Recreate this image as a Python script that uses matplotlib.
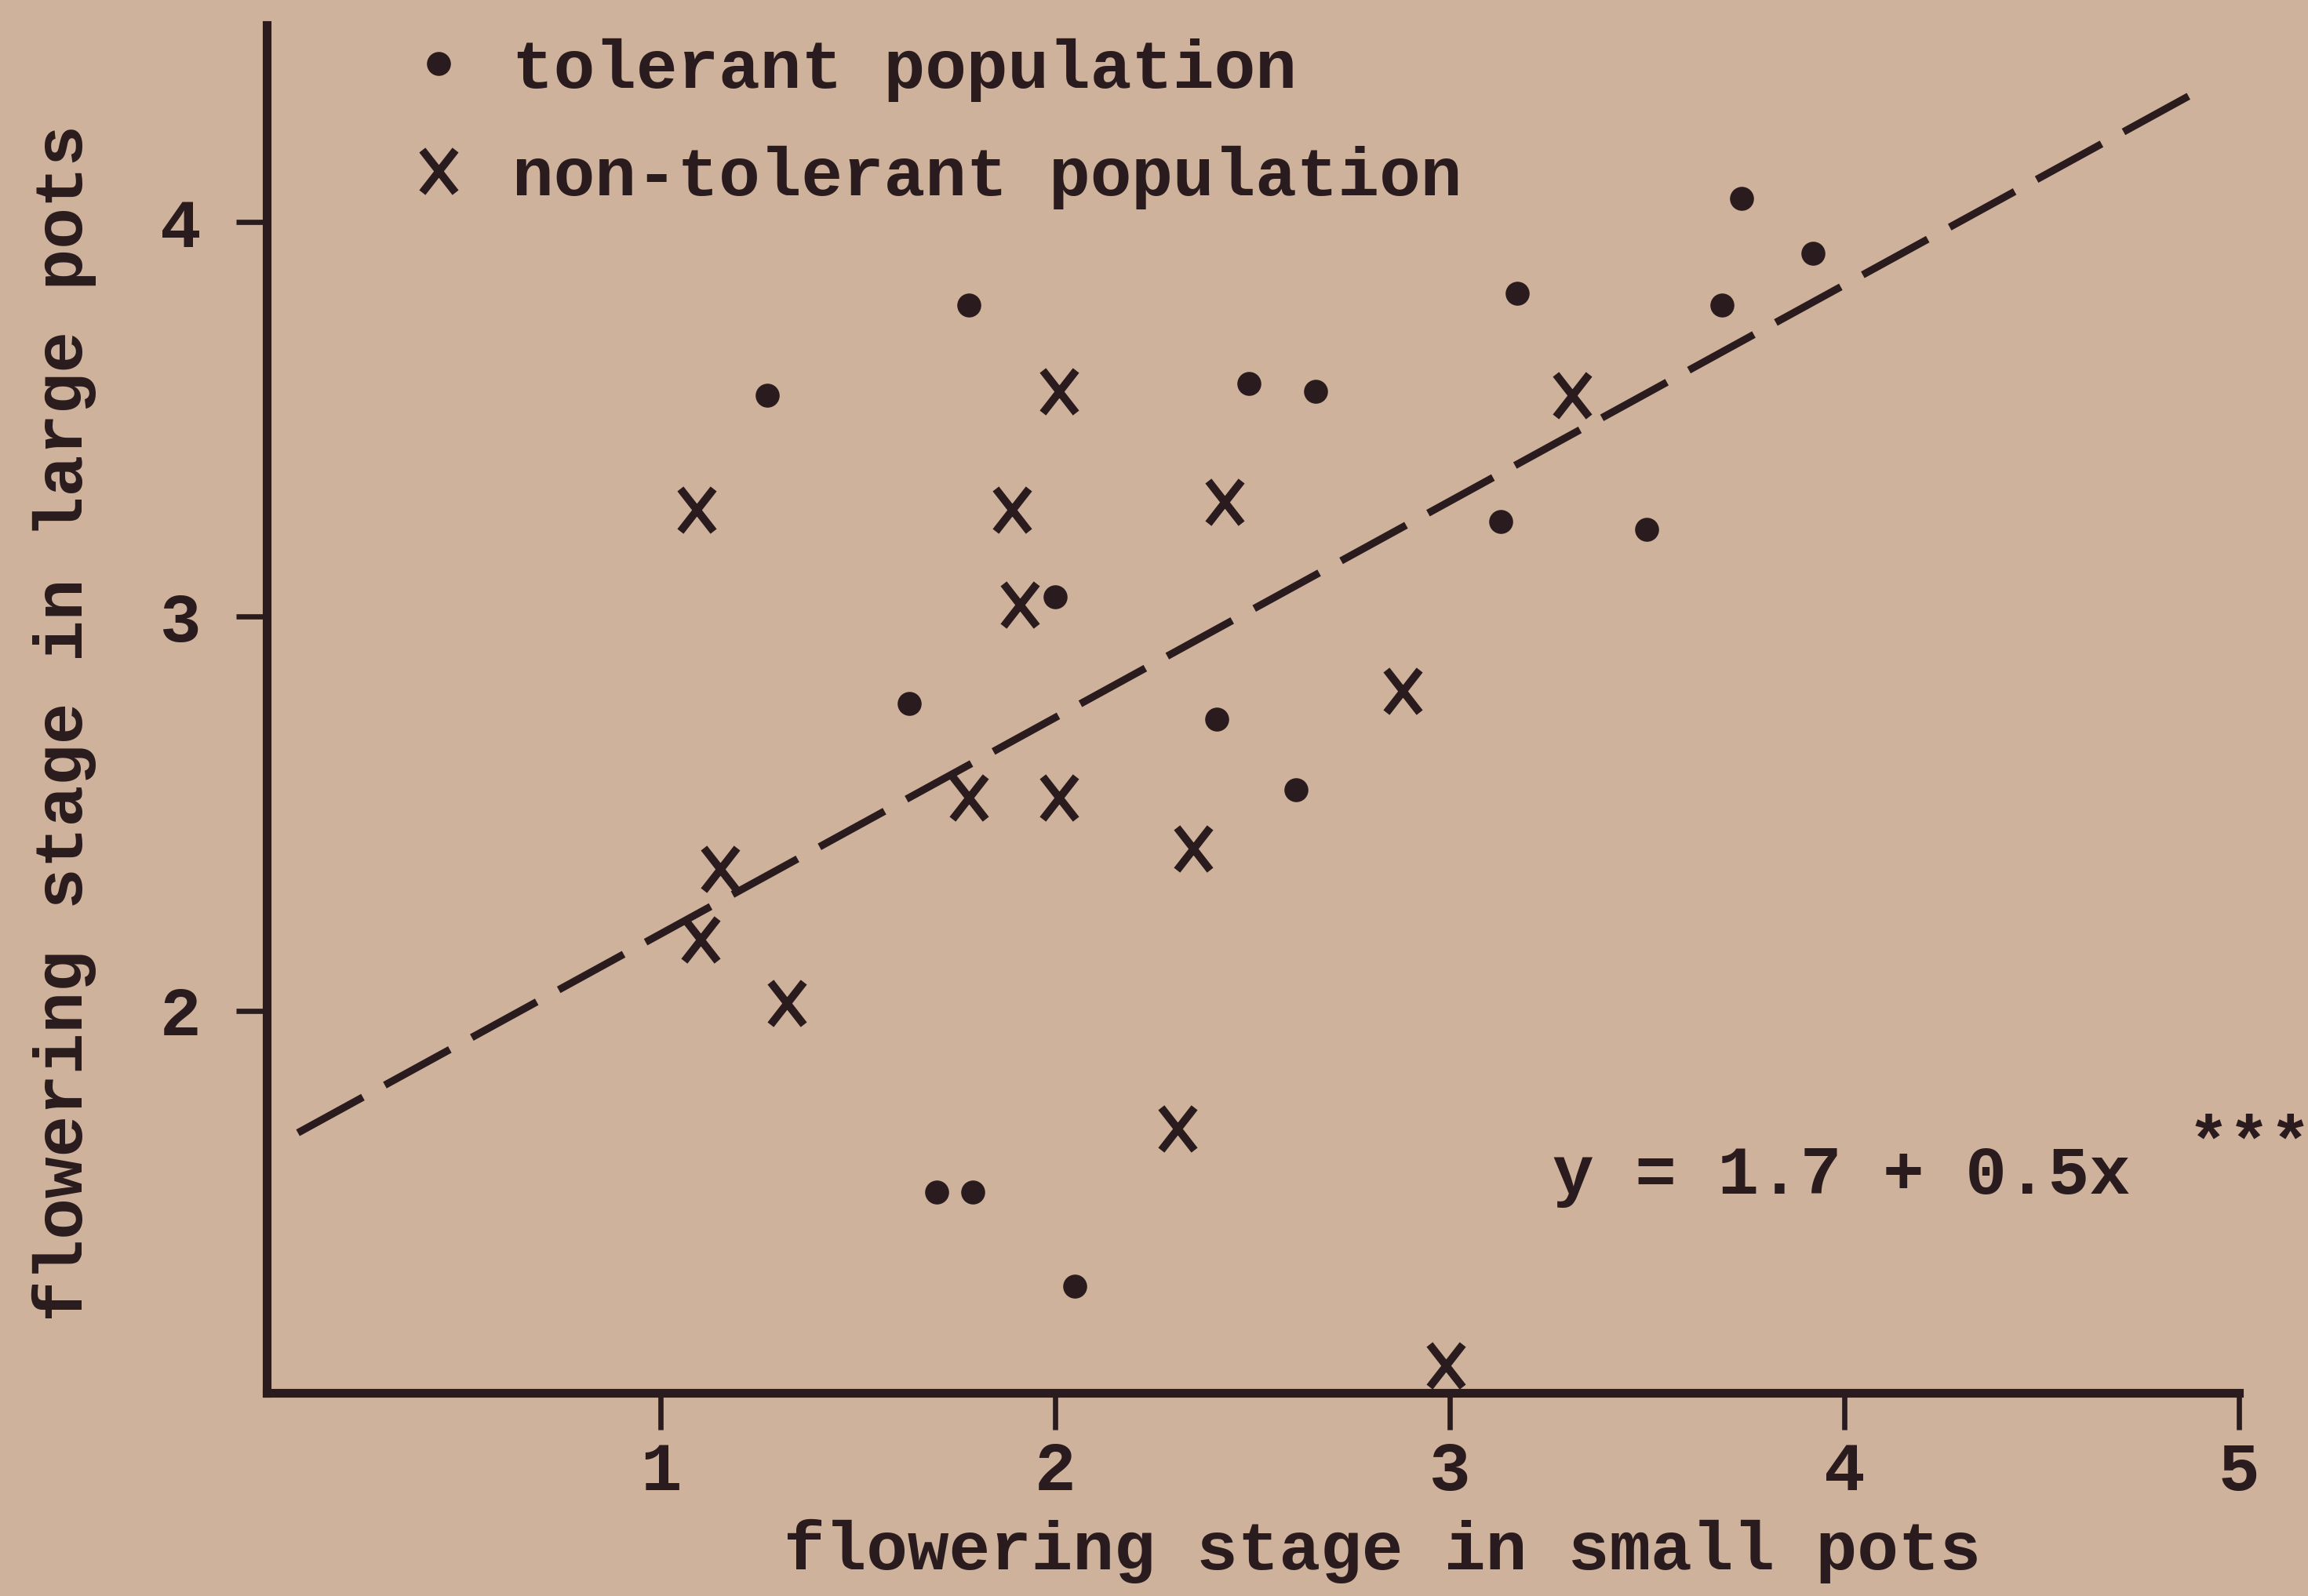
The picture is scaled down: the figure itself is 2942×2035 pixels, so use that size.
import matplotlib
matplotlib.use("Agg")
import matplotlib.pyplot as plt
from matplotlib.path import Path

# flowering stage, small pots (x) vs large pots (y)
tol_x = [1.27, 1.78, 2.49, 2.66, 2.00, 1.63, 2.41, 2.61, 1.70, 1.79, 2.05, 3.17, 3.13, 3.50, 3.69, 3.74, 3.92]
tol_y = [3.56, 3.79, 3.59, 3.57, 3.05, 2.78, 2.74, 2.56, 1.54, 1.54, 1.30, 3.82, 3.24, 3.22, 3.79, 4.06, 3.92]

non_x = [1.09, 2.01, 1.89, 2.43, 1.91, 2.88, 1.78, 2.01, 2.35, 1.15, 1.10, 1.32, 2.31, 2.99, 3.31]
non_y = [3.27, 3.57, 3.27, 3.29, 3.03, 2.81, 2.54, 2.54, 2.41, 2.36, 2.18, 2.02, 1.70, 1.10, 3.56]

# regression line as drawn
fit_x = [0.08, 4.91]
fit_y = [1.69, 4.34]

x_ticks = [1, 2, 3, 4, 5]
y_ticks = [2, 3, 4]

paper = "#ceb29b"
ink = "#2a1c1e"
fs = 31.6

plt.rcParams["font.family"] = ["Liberation Mono", "DejaVu Sans Mono"]
plt.rcParams["font.weight"] = "bold"
plt.rcParams["lines.scale_dashes"] = False

fig = plt.figure(figsize=(14.71, 10.175), dpi=200, facecolor=paper)
ax = fig.add_axes([0.1154, 0.1272, 0.8546, 0.8571])
ax.set_facecolor(paper)

# typewriter style X
cross = Path([(-0.39, -0.5), (0.39, 0.5), (-0.39, 0.5), (0.39, -0.5)],
             [Path.MOVETO, Path.LINETO, Path.MOVETO, Path.LINETO])

ax.plot(fit_x, fit_y, color=ink, lw=3.4, dashes=(34, 11.5), solid_capstyle="butt")
ax.plot(tol_x, tol_y, linestyle="none", marker="o", markersize=11,
        color=ink, markeredgewidth=0, label="tolerant population", clip_on=False)
ax.plot(non_x, non_y, linestyle="none", marker=cross, markersize=19.5,
        markeredgecolor=ink, markeredgewidth=3.6, label="non-tolerant population", clip_on=False)

ax.set_xlim(0, 5)
ax.set_ylim(1.03, 4.5)
ax.set_xticks(x_ticks)
ax.set_yticks(y_ticks)
ax.set_xticklabels([str(t) for t in x_ticks])
ax.set_yticklabels([str(t) for t in y_ticks])

for side in ["top", "right"]:
    ax.spines[side].set_visible(False)
for side in ["left", "bottom"]:
    ax.spines[side].set_linewidth(4)
    ax.spines[side].set_color(ink)

ax.tick_params(axis="x", length=17, width=2.4, pad=5, labelsize=fs, colors=ink)
ax.tick_params(axis="y", length=14, width=2.4, pad=16, labelsize=fs, colors=ink)

fig.text(0.599, 0.028, "flowering stage in small pots", ha="center", va="center",
         fontsize=fs, color=ink)
fig.text(0.028, 0.547, "flowering stage in large pots", ha="center", va="center",
         rotation=90, fontsize=fs, color=ink)

ax.text(3.26, 1.58, "y = 1.7 + 0.5x", ha="left", va="center", fontsize=fs, color=ink)
ax.text(4.87, 1.66, "***", ha="left", va="center", fontsize=fs, color=ink)

leg = ax.legend(loc="upper left", bbox_to_anchor=(0.175, 0.976),
                bbox_transform=fig.transFigure, frameon=False, borderpad=0,
                borderaxespad=0, handlelength=1.0, handletextpad=0.57,
                labelspacing=0.63, fontsize=fs)
for t in leg.get_texts():
    t.set_color(ink)

fig.savefig("out.png", dpi=200, facecolor=paper)
